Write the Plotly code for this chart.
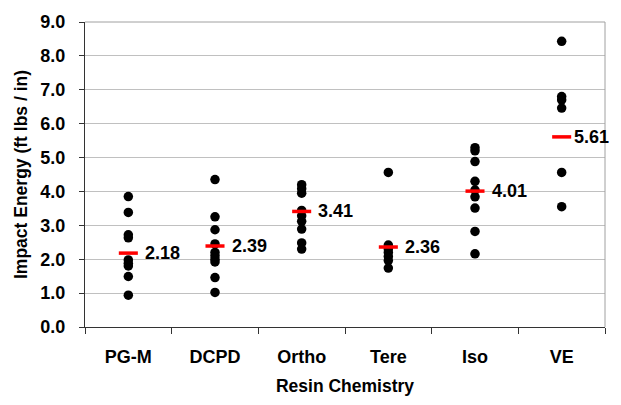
import plotly.graph_objects as go

categories = ["PG-M", "DCPD", "Ortho", "Tere", "Iso", "VE"]
pgm = [3.85, 3.38, 2.72, 2.63, 1.98, 1.88, 1.80, 1.49, 0.94]
dcpd = [4.35, 3.25, 2.87, 2.45, 2.20, 2.10, 2.00, 1.92, 1.46, 1.02]
ortho = [4.20, 4.08, 3.95, 3.44, 3.28, 3.12, 2.89, 2.48, 2.30]
tere = [4.56, 2.42, 2.30, 2.20, 2.08, 1.96, 1.74]
iso = [5.29, 5.20, 4.88, 4.30, 4.04, 3.84, 3.51, 2.82, 2.16]
ve = [8.43, 6.80, 6.70, 6.46, 4.56, 3.55]
means = [2.18, 2.39, 3.41, 2.36, 4.01, 5.61]
y_ticks = [0, 1, 2, 3, 4, 5, 6, 7, 8, 9]

series = [pgm, dcpd, ortho, tere, iso, ve]
xs, ys = [], []
for cat, vals in zip(categories, series):
    xs += [cat] * len(vals)
    ys += vals

FONT = "Arial, Liberation Sans, sans-serif"
FS = 18

fig = go.Figure()
fig.add_trace(go.Scatter(
    x=xs, y=ys, mode="markers",
    marker=dict(color="black", size=9.5),
    showlegend=False, hoverinfo="y",
))
fig.add_trace(go.Scatter(
    x=categories, y=means, mode="markers",
    marker=dict(symbol="line-ew", size=13.6, color="red",
                line=dict(color="#ff0000", width=3.5)),
    showlegend=False, hoverinfo="y",
))

label_shift = [14.5, 14.5, 14.5, 14.5, 14.5, 10]
for cat, m, sh in zip(categories, means, label_shift):
    fig.add_annotation(
        x=cat, y=m, text=f"{m:.2f}", showarrow=False,
        xanchor="left", yanchor="middle", xshift=sh,
        font=dict(family=FONT, size=FS, color="black", weight="bold"),
    )

fig.update_layout(
    width=621, height=405,
    margin=dict(l=85, r=16, t=15, b=77),
    paper_bgcolor="white", plot_bgcolor="white",
    font=dict(family=FONT, color="black", weight="bold"),
    xaxis=dict(
        type="category", categoryorder="array", categoryarray=categories,
        range=[-0.5, 5.5], tickson="boundaries", ticks="outside",
        ticklen=6, tickcolor="#333", showline=True, linecolor="#333",
        linewidth=1, mirror=False, showgrid=False, ticklabelstandoff=13,
        tickfont=dict(family=FONT, size=FS, color="black", weight="bold"),
        title=dict(text="Resin Chemistry", standoff=14,
                   font=dict(family=FONT, size=17.5, color="black", weight="bold")),
    ),
    yaxis=dict(
        range=[0, 9], tickvals=y_ticks,
        ticktext=[f"{v:.1f}" for v in y_ticks],
        ticks="outside", ticklen=5, tickcolor="#333", ticklabelstandoff=10,
        showline=True, linecolor="#333", linewidth=1,
        showgrid=True, gridcolor="#c0c0c0", gridwidth=1, zeroline=False,
        tickfont=dict(family=FONT, size=FS, color="black", weight="bold"),
        title=dict(text="Impact Energy (ft lbs / in)", standoff=8,
                   font=dict(family=FONT, size=17.5, color="black", weight="bold")),
    ),
    shapes=[dict(type="line", xref="paper", yref="paper", x0=0, x1=1, y0=1, y1=1,
                 line=dict(color="#a0a0a0", width=1)),
            dict(type="line", xref="paper", yref="paper", x0=1, x1=1, y0=0, y1=1,
                 line=dict(color="#a0a0a0", width=1))],
)

fig.write_html("out.html")
